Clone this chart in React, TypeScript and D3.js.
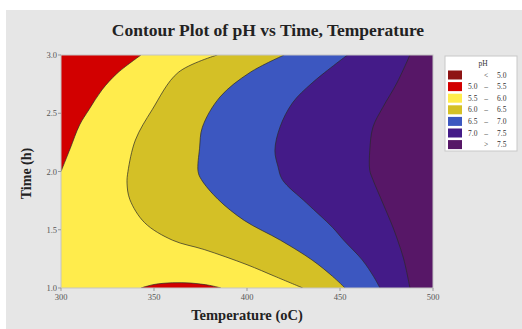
import React from "react";
import * as d3 from "d3";

const tempTicks = [300, 350, 400, 450, 500];
const timeTicks = [1.0, 1.5, 2.0, 2.5, 3.0];

// contour boundaries as [temperature, time]
const b50top: [number, number][] = [[300, 2.0], [305, 2.2], [310, 2.4], [315, 2.53], [322, 2.7], [330, 2.84], [343, 3.0]];
const b50bottom: [number, number][] = [[343, 1.0], [350, 1.03], [360, 1.045], [370, 1.042], [380, 1.022], [386, 1.0]];
const b55: [number, number][] = [[384, 3.0], [363, 2.85], [349, 2.53], [340, 2.27], [336, 2.0], [335.5, 1.9], [337, 1.76], [345, 1.56], [360, 1.41], [377, 1.33], [400, 1.2], [415, 1.1], [430, 1.0]];
const b60: [number, number][] = [[420, 3.0], [401.6, 2.85], [385.5, 2.64], [376, 2.38], [374.5, 2.2], [373.7, 2.0], [375.5, 1.93], [384.5, 1.76], [398.5, 1.58], [418, 1.41], [435, 1.24], [446, 1.1], [452.7, 1.0]];
const b65: [number, number][] = [[454, 3.0], [435, 2.76], [424.5, 2.59], [417.7, 2.38], [415, 2.18], [416.7, 2.04], [419, 1.93], [432, 1.73], [446, 1.52], [452, 1.41], [462, 1.24], [468, 1.1], [471.5, 1.0]];
const b70: [number, number][] = [[487.6, 3.0], [480.6, 2.76], [473, 2.55], [467.7, 2.38], [466, 2.18], [466, 2.01], [467.7, 1.93], [473, 1.73], [478.5, 1.52], [481, 1.41], [484.4, 1.24], [487.6, 1.0]];

const legendLabels = ["< 5.0", "5.0 – 5.5", "5.5 – 6.0", "6.0 – 6.5", "6.5 – 7.0", "7.0 – 7.5", "> 7.5"];
const legendColors = ["#8e1414", "#d20000", "#ffec4c", "#d4c026", "#3c57c0", "#441b88", "#571767"];

const W = 522, H = 329;
const X0 = 61, X1 = 433, Y0 = 55, Y1 = 288;
const serif = "'Liberation Serif', 'DejaVu Serif', serif";

export default function App() {
  const x = d3.scaleLinear().domain([300, 500]).range([X0, X1]);
  const y = d3.scaleLinear().domain([1, 3]).range([Y1, Y0]);
  const line = d3.line<[number, number]>().x(d => x(d[0])).y(d => y(d[1])).curve(d3.curveCatmullRom.alpha(0.5));

  const rightRegion = (pts: [number, number][]) =>
    line(pts) + `L${x(500)},${y(1)}L${x(500)},${y(3)}Z`;

  const regions = [
    { d: rightRegion(b55), fill: legendColors[3] },
    { d: rightRegion(b60), fill: legendColors[4] },
    { d: rightRegion(b65), fill: legendColors[5] },
    { d: rightRegion(b70), fill: legendColors[6] },
  ];
  const redTop = line(b50top) + `L${x(300)},${y(3)}Z`;
  const redBottom = line(b50bottom) + "Z";
  const borders = [b50top, b50bottom, b55, b60, b65, b70];

  return (
    <svg width={W} height={H} style={{ position: "absolute", left: 0, top: 0 }}>
      <rect x={0} y={0} width={W} height={H} fill="#ffffff" />
      <rect x={6} y={10} width={W - 6} height={H - 10} fill="#e6e6e6" />
      <text x={268} y={36} textAnchor="middle" fontFamily={serif} fontWeight="bold" fontSize={17.5} fill="#222">
        Contour Plot of pH vs Time, Temperature
      </text>
      <defs>
        <clipPath id="pa"><rect x={X0} y={Y0} width={X1 - X0} height={Y1 - Y0} /></clipPath>
      </defs>
      <g clipPath="url(#pa)">
        <rect x={X0} y={Y0} width={X1 - X0} height={Y1 - Y0} fill={legendColors[2]} />
        <path d={redTop} fill={legendColors[1]} />
        <path d={redBottom} fill={legendColors[1]} />
        {regions.map((r, i) => <path key={i} d={r.d} fill={r.fill} />)}
        {borders.map((b, i) => <path key={"b" + i} d={line(b) || ""} fill="none" stroke="#2a2a2a" strokeWidth={0.7} />)}
      </g>
      <rect x={X0} y={Y0} width={X1 - X0} height={Y1 - Y0} fill="none" stroke="#c4c4c4" strokeWidth={1} />
      {tempTicks.map(t => (
        <g key={"x" + t}>
          <line x1={x(t)} x2={x(t)} y1={Y1} y2={Y1 + 3} stroke="#999" />
          <text x={x(t)} y={Y1 + 12} textAnchor="middle" fontFamily={serif} fontSize={8.5} fill="#555">{t}</text>
        </g>
      ))}
      {timeTicks.map(t => (
        <g key={"y" + t}>
          <line x1={X0 - 3} x2={X0} y1={y(t)} y2={y(t)} stroke="#999" />
          <text x={X0 - 4} y={y(t) + 3} textAnchor="end" fontFamily={serif} fontSize={8.5} fill="#555">{t.toFixed(1)}</text>
        </g>
      ))}
      <text x={247} y={320} textAnchor="middle" fontFamily={serif} fontWeight="bold" fontSize={14.5} fill="#222">Temperature (oC)</text>
      <text transform={`translate(31,${(Y0 + Y1) / 2 + 2}) rotate(-90)`} textAnchor="middle" fontFamily={serif} fontWeight="bold" fontSize={14} fill="#222">Time (h)</text>
      <rect x={445} y={56} width={72} height={95} fill="#ffffff" stroke="#c8c8c8" />
      <text x={483} y={66} textAnchor="middle" fontFamily={serif} fontSize={7.5} fill="#333">pH</text>
      {legendLabels.map((l, i) => {
        const cy = 75 + i * 11.6;
        const parts = l.split(" ");
        return (
          <g key={"l" + i}>
            <rect x={448} y={cy - 4.5} width={14} height={9} fill={legendColors[i]} />
            {parts.length === 3 ? (
              <>
                <text x={468} y={cy + 2.5} fontFamily={serif} fontSize={7.5} fill="#333">{parts[0]}</text>
                <text x={486} y={cy + 2.5} textAnchor="middle" fontFamily={serif} fontSize={7.5} fill="#333">{parts[1]}</text>
                <text x={497} y={cy + 2.5} fontFamily={serif} fontSize={7.5} fill="#333">{parts[2]}</text>
              </>
            ) : (
              <>
                <text x={486} y={cy + 2.5} textAnchor="middle" fontFamily={serif} fontSize={7.5} fill="#333">{parts[0]}</text>
                <text x={497} y={cy + 2.5} fontFamily={serif} fontSize={7.5} fill="#333">{parts[1]}</text>
              </>
            )}
          </g>
        );
      })}
    </svg>
  );
}
